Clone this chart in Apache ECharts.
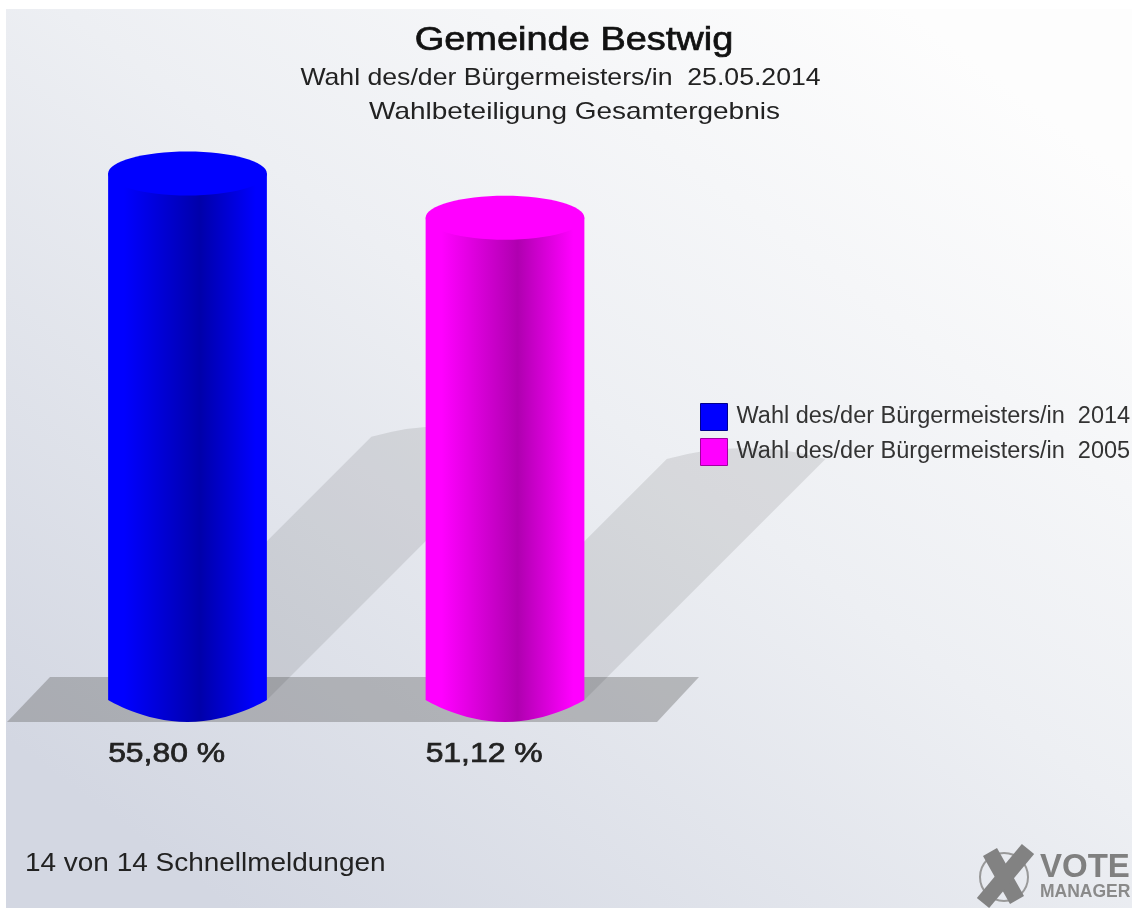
<!DOCTYPE html>
<html><head><meta charset="utf-8">
<style>html,body{margin:0;padding:0;background:#fff}#c{width:1132px;height:910px}</style>
<script src="https://cdn.jsdelivr.net/npm/echarts@6/dist/echarts.min.js"></script>
</head><body><div id="c"></div>
<script>
const categories = ['2014', '2005'];
const seriesNames = ['Wahl des/der Bürgermeisters/in  2014', 'Wahl des/der Bürgermeisters/in  2005'];
const values = [55.80, 51.12];
const valueLabels = ['55,80 %', '51,12 %'];
const lightColors = ['#0000ff', '#ff00ff'];
const darkColors = ['#0000aa', '#b000b0'];
const titleLines = ['Gemeinde Bestwig', 'Wahl des/der Bürgermeisters/in  25.05.2014', 'Wahlbeteiligung Gesamtergebnis'];
const footerText = '14 von 14 Schnellmeldungen';

const FONT = '"Liberation Sans", Arial, sans-serif';
const RY = 22;

function grad(light, dark) {
  return { type:'linear', x:0,y:0,x2:1,y2:0, colorStops:[
    {offset:0,color:light},{offset:0.1,color:light},{offset:0.58,color:dark},{offset:0.93,color:light},{offset:1,color:light}]};
}
function renderBar(idx) {
  return function (params, api) {
    const c = api.coord([idx, api.value(1)]);
    const b = api.coord([idx, 0]);
    const w = api.size([1, 0])[0] * 0.5;
    const l = c[0] - w / 2, r = c[0] + w / 2, top = c[1], base = b[1];
    const sh = (base - top) * 0.5;
    const k = 0.5522847;
    const shadow = {
      type:'path', silent:true,
      shape:{ pathData:
        'M'+l+' '+base+' L'+(l+sh)+' '+(base-sh)+
        ' Q'+(c[0]+sh)+' '+(base-sh-RY)+' '+(r+sh)+' '+(base-sh)+
        ' L'+r+' '+base+' Z' },
      style:{ fill:'rgba(40,40,40,0.115)' }
    };
    const body = {
      type:'path', silent:true,
      shape:{ pathData:
        'M'+l+' '+top+' L'+l+' '+base+
        ' C'+l+' '+base+' '+(c[0]-w/2*k)+' '+(base+RY)+' '+c[0]+' '+(base+RY)+
        ' C'+(c[0]+w/2*k)+' '+(base+RY)+' '+r+' '+base+' '+r+' '+base+
        ' L'+r+' '+top+' Z' },
      style:{ fill:grad(lightColors[idx], darkColors[idx]) }
    };
    const cap = {
      type:'ellipse', silent:true,
      shape:{ cx:c[0], cy:top, rx:w/2, ry:RY },
      style:{ fill:lightColors[idx] }
    };
    const label = {
      type:'text', silent:true, x:l, y:base+55, scaleX:1.18, scaleY:1,
      style:{ x:0, y:0, text:valueLabels[idx], fill:'#222', stroke:'#222', lineWidth:0.7,
        font:'27px '+FONT, textAlign:'left', textVerticalAlign:'middle' }
    };
    return { type:'group', children:[shadow, body, cap, label] };
  };
}
function stretched(text, x, y, font, sx, fill, align, strokeW) {
  return { type:'text', silent:true, z:6, x:x, y:y, scaleX:sx, scaleY:1,
    style:{ x:0, y:0, text:text, font:font+' '+FONT, fill:fill, textAlign:align, textVerticalAlign:'middle',
      stroke: strokeW ? fill : null, lineWidth: strokeW || 0 } };
}

const chart = echarts.init(document.getElementById('c'), null, {renderer:'canvas'});
chart.setOption({
  animation:false,
  backgroundColor:'#ffffff',
  legend:{
    left:700, top:403, padding:0, orient:'vertical', itemWidth:27, itemHeight:27, itemGap:7,
    selectedMode:false, icon:'rect',
    textStyle:{ fontFamily:FONT, fontSize:23.5, color:'#333', padding:[0,0,0,4] },
    data:[
      { name:seriesNames[0], itemStyle:{ color:lightColors[0], borderColor:'#00008c', borderWidth:1 } },
      { name:seriesNames[1], itemStyle:{ color:lightColors[1], borderColor:'#a000a0', borderWidth:1 } }
    ]
  },
  grid:{ left:28.75, width:635, top:134, bottom:210 },
  xAxis:{ type:'category', data:categories, show:false },
  yAxis:{ type:'value', min:0, max:60, show:false },
  series:[0,1].map(i => ({
    type:'custom', name:seriesNames[i], coordinateSystem:'cartesian2d', clip:false, silent:true,
    itemStyle:{ color:lightColors[i] },
    renderItem:renderBar(i),
    encode:{ x:0, y:1 },
    data:[[i, values[i]]],
    z:3
  })),
  graphic:[
    { type:'rect', z:-10, silent:true, shape:{ x:6, y:9, width:1126, height:899 },
      style:{ fill:{ type:'linear', x:0.8,y:0,x2:0.2,y2:1, colorStops:[
        {offset:0,color:'#fdfdfd'},{offset:0.45,color:'#edeff3'},{offset:1,color:'#d3d7e2'}]} } },
    { type:'polygon', z:1, silent:true, shape:{ points:[[7,722],[657,722],[699,677],[50,677]] },
      style:{ fill:'rgba(100,100,100,0.38)' } },
    stretched(titleLines[0], 574, 41, '33px', 1.15, '#111', 'center', 0.7),
    stretched(titleLines[1], 560.5, 78, '24px', 1.11, '#222', 'center'),
    stretched(titleLines[2], 574.5, 112, '24px', 1.165, '#222', 'center'),
    stretched(footerText, 25, 864, '25px', 1.118, '#222', 'left'),
    { type:'group', z:5, silent:true, children:[
      { type:'circle', shape:{cx:1004,cy:877,r:24}, style:{ fill:'none', stroke:'#999', lineWidth:2 } },
      { type:'line', shape:{x1:990,y1:852,x2:1017,y2:900}, style:{ stroke:'#828282', lineWidth:16 } },
      { type:'line', shape:{x1:1028,y1:849,x2:983,y2:903}, style:{ stroke:'#828282', lineWidth:16 } },
      { type:'text', style:{ x:1040, y:851, text:'VOTE', fill:'#808080', font:'bold 33px '+FONT } },
      { type:'text', style:{ x:1040, y:883, text:'MANAGER', fill:'#8a8a8a', font:'bold 17.5px '+FONT } }
    ]}
  ]
});
</script></body></html>
